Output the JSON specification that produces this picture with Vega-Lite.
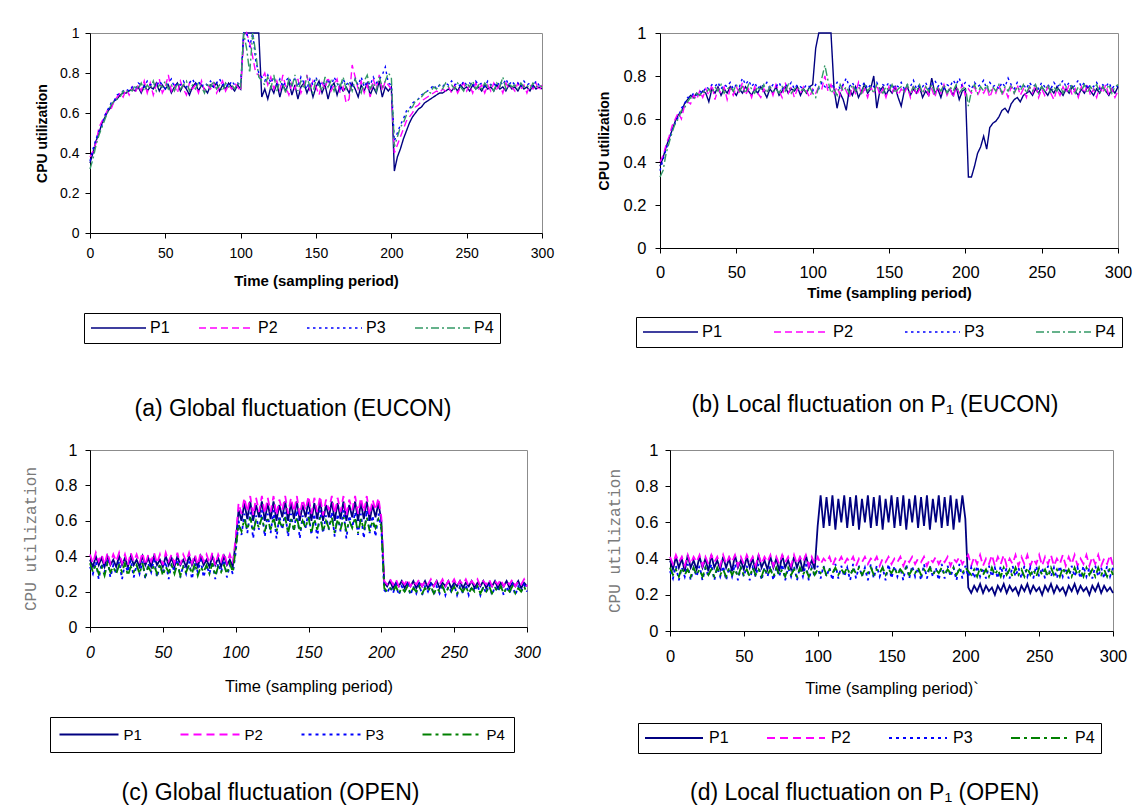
{
"$schema": "https://vega.github.io/schema/vega-lite/v6.json",
"padding": {"left": 22, "top": 24, "right": 5, "bottom": 2},
"background": "white",
"config": {
  "font": "Liberation Sans",
  "view": {"stroke": "#8c8c8c", "strokeWidth": 1},
  "axis": {"grid": false, "domainColor": "black", "tickColor": "black", "labelColor": "black", "titleColor": "black", "tickSize": 5, "labelFont": "Liberation Sans", "labelFlush": false, "labelOverlap": false},
  "legend": {"orient": "none", "direction": "horizontal", "columns": 4, "symbolType": "stroke", "clipHeight": 18, "strokeColor": "black", "fillColor": "white", "labelColor": "black", "labelFont": "Liberation Sans", "gridAlign": "each"},
  "title": {"font": "Liberation Sans", "fontSize": 23, "fontWeight": "normal", "color": "black", "orient": "bottom", "frame": "group", "anchor": "middle"}
},
"resolve": {"scale": {"color": "independent", "strokeDash": "independent"}, "legend": {"color": "independent", "strokeDash": "independent"}},
"datasets": {
"a": [
{"t":0,"P1":0.35,"P2":0.38,"P3":0.36,"P4":0.32},
{"t":2,"P1":0.40,"P2":0.41,"P3":0.42,"P4":0.37},
{"t":4,"P1":0.46,"P2":0.45,"P3":0.47,"P4":0.44},
{"t":6,"P1":0.50,"P2":0.53,"P3":0.51,"P4":0.49},
{"t":8,"P1":0.55,"P2":0.56,"P3":0.54,"P4":0.53},
{"t":10,"P1":0.58,"P2":0.59,"P3":0.59,"P4":0.57},
{"t":12,"P1":0.61,"P2":0.62,"P3":0.62,"P4":0.61},
{"t":14,"P1":0.63,"P2":0.62,"P3":0.65,"P4":0.64},
{"t":16,"P1":0.66,"P2":0.66,"P3":0.66,"P4":0.66},
{"t":18,"P1":0.67,"P2":0.68,"P3":0.69,"P4":0.67},
{"t":20,"P1":0.69,"P2":0.70,"P3":0.70,"P4":0.68},
{"t":22,"P1":0.70,"P2":0.68,"P3":0.71,"P4":0.71},
{"t":24,"P1":0.70,"P2":0.72,"P3":0.72,"P4":0.70},
{"t":26,"P1":0.71,"P2":0.69,"P3":0.71,"P4":0.72},
{"t":28,"P1":0.72,"P2":0.73,"P3":0.73,"P4":0.71},
{"t":30,"P1":0.71,"P2":0.70,"P3":0.72,"P4":0.74},
{"t":32,"P1":0.73,"P2":0.74,"P3":0.75,"P4":0.72},
{"t":34,"P1":0.70,"P2":0.71,"P3":0.74,"P4":0.75},
{"t":36,"P1":0.74,"P2":0.76,"P3":0.73,"P4":0.71},
{"t":38,"P1":0.71,"P2":0.70,"P3":0.76,"P4":0.74},
{"t":40,"P1":0.73,"P2":0.75,"P3":0.74,"P4":0.72},
{"t":42,"P1":0.72,"P2":0.69,"P3":0.75,"P4":0.76},
{"t":44,"P1":0.75,"P2":0.74,"P3":0.73,"P4":0.71},
{"t":46,"P1":0.71,"P2":0.77,"P3":0.76,"P4":0.74},
{"t":48,"P1":0.74,"P2":0.70,"P3":0.74,"P4":0.73},
{"t":50,"P1":0.72,"P2":0.73,"P3":0.72,"P4":0.76},
{"t":52,"P1":0.74,"P2":0.79,"P3":0.75,"P4":0.72},
{"t":54,"P1":0.70,"P2":0.71,"P3":0.77,"P4":0.74},
{"t":56,"P1":0.73,"P2":0.74,"P3":0.73,"P4":0.71},
{"t":58,"P1":0.75,"P2":0.70,"P3":0.75,"P4":0.75},
{"t":60,"P1":0.71,"P2":0.76,"P3":0.74,"P4":0.72},
{"t":62,"P1":0.74,"P2":0.72,"P3":0.76,"P4":0.74},
{"t":64,"P1":0.72,"P2":0.69,"P3":0.73,"P4":0.76},
{"t":66,"P1":0.69,"P2":0.75,"P3":0.75,"P4":0.71},
{"t":68,"P1":0.73,"P2":0.72,"P3":0.77,"P4":0.74},
{"t":70,"P1":0.75,"P2":0.74,"P3":0.74,"P4":0.72},
{"t":72,"P1":0.71,"P2":0.70,"P3":0.76,"P4":0.75},
{"t":74,"P1":0.74,"P2":0.76,"P3":0.73,"P4":0.73},
{"t":76,"P1":0.72,"P2":0.71,"P3":0.75,"P4":0.70},
{"t":78,"P1":0.70,"P2":0.74,"P3":0.74,"P4":0.75},
{"t":80,"P1":0.74,"P2":0.72,"P3":0.76,"P4":0.73},
{"t":82,"P1":0.73,"P2":0.75,"P3":0.73,"P4":0.76},
{"t":84,"P1":0.75,"P2":0.70,"P3":0.75,"P4":0.72},
{"t":86,"P1":0.71,"P2":0.73,"P3":0.77,"P4":0.74},
{"t":88,"P1":0.74,"P2":0.76,"P3":0.74,"P4":0.71},
{"t":90,"P1":0.72,"P2":0.71,"P3":0.75,"P4":0.75},
{"t":92,"P1":0.75,"P2":0.74,"P3":0.73,"P4":0.73},
{"t":94,"P1":0.73,"P2":0.72,"P3":0.76,"P4":0.74},
{"t":96,"P1":0.71,"P2":0.75,"P3":0.74,"P4":0.72},
{"t":98,"P1":0.74,"P2":0.73,"P3":0.75,"P4":0.75},
{"t":100,"P1":0.72,"P2":0.71,"P3":0.74,"P4":0.73},
{"t":102,"P1":1,"P2":0.97,"P3":1,"P4":1},
{"t":104,"P1":1,"P2":1,"P3":1,"P4":0.92},
{"t":106,"P1":1,"P2":0.95,"P3":0.93,"P4":0.80},
{"t":108,"P1":1,"P2":0.88,"P3":1,"P4":1},
{"t":110,"P1":1,"P2":0.80,"P3":0.86,"P4":0.90},
{"t":112,"P1":1,"P2":0.79,"P3":0.80,"P4":0.78},
{"t":114,"P1":0.68,"P2":0.77,"P3":0.78,"P4":0.76},
{"t":116,"P1":0.72,"P2":0.80,"P3":0.76,"P4":0.74},
{"t":118,"P1":0.67,"P2":0.74,"P3":0.79,"P4":0.78},
{"t":120,"P1":0.73,"P2":0.78,"P3":0.75,"P4":0.72},
{"t":122,"P1":0.70,"P2":0.72,"P3":0.78,"P4":0.79},
{"t":124,"P1":0.75,"P2":0.76,"P3":0.74,"P4":0.71},
{"t":126,"P1":0.68,"P2":0.71,"P3":0.77,"P4":0.76},
{"t":128,"P1":0.74,"P2":0.79,"P3":0.73,"P4":0.74},
{"t":130,"P1":0.71,"P2":0.73,"P3":0.76,"P4":0.70},
{"t":132,"P1":0.76,"P2":0.69,"P3":0.78,"P4":0.77},
{"t":134,"P1":0.69,"P2":0.75,"P3":0.74,"P4":0.73},
{"t":136,"P1":0.74,"P2":0.72,"P3":0.77,"P4":0.79},
{"t":138,"P1":0.67,"P2":0.77,"P3":0.73,"P4":0.71},
{"t":140,"P1":0.73,"P2":0.70,"P3":0.78,"P4":0.76},
{"t":142,"P1":0.75,"P2":0.74,"P3":0.75,"P4":0.72},
{"t":144,"P1":0.70,"P2":0.79,"P3":0.72,"P4":0.78},
{"t":146,"P1":0.74,"P2":0.71,"P3":0.77,"P4":0.73},
{"t":148,"P1":0.68,"P2":0.76,"P3":0.74,"P4":0.70},
{"t":150,"P1":0.73,"P2":0.73,"P3":0.78,"P4":0.77},
{"t":152,"P1":0.76,"P2":0.69,"P3":0.73,"P4":0.74},
{"t":154,"P1":0.70,"P2":0.75,"P3":0.76,"P4":0.71},
{"t":156,"P1":0.74,"P2":0.72,"P3":0.74,"P4":0.78},
{"t":158,"P1":0.67,"P2":0.78,"P3":0.77,"P4":0.73},
{"t":160,"P1":0.73,"P2":0.71,"P3":0.73,"P4":0.76},
{"t":162,"P1":0.75,"P2":0.74,"P3":0.78,"P4":0.71},
{"t":164,"P1":0.69,"P2":0.77,"P3":0.75,"P4":0.75},
{"t":166,"P1":0.74,"P2":0.70,"P3":0.72,"P4":0.73},
{"t":168,"P1":0.71,"P2":0.73,"P3":0.77,"P4":0.78},
{"t":170,"P1":0.73,"P2":0.65,"P3":0.74,"P4":0.72},
{"t":172,"P1":0.70,"P2":0.67,"P3":0.76,"P4":0.75},
{"t":174,"P1":0.75,"P2":0.84,"P3":0.73,"P4":0.71},
{"t":176,"P1":0.72,"P2":0.78,"P3":0.77,"P4":0.77},
{"t":178,"P1":0.68,"P2":0.72,"P3":0.74,"P4":0.73},
{"t":180,"P1":0.74,"P2":0.76,"P3":0.78,"P4":0.70},
{"t":182,"P1":0.71,"P2":0.70,"P3":0.73,"P4":0.76},
{"t":184,"P1":0.75,"P2":0.74,"P3":0.76,"P4":0.79},
{"t":186,"P1":0.69,"P2":0.68,"P3":0.74,"P4":0.72},
{"t":188,"P1":0.73,"P2":0.77,"P3":0.78,"P4":0.75},
{"t":190,"P1":0.70,"P2":0.72,"P3":0.75,"P4":0.71},
{"t":192,"P1":0.76,"P2":0.79,"P3":0.77,"P4":0.78},
{"t":194,"P1":0.68,"P2":0.71,"P3":0.79,"P4":0.73},
{"t":196,"P1":0.73,"P2":0.76,"P3":0.83,"P4":0.76},
{"t":198,"P1":0.71,"P2":0.74,"P3":0.75,"P4":0.80},
{"t":200,"P1":0.73,"P2":0.72,"P3":0.74,"P4":0.78},
{"t":202,"P1":0.31,"P2":0.40,"P3":0.46,"P4":0.43},
{"t":204,"P1":0.38,"P2":0.44,"P3":0.50,"P4":0.48},
{"t":206,"P1":0.42,"P2":0.48,"P3":0.54,"P4":0.53},
{"t":208,"P1":0.47,"P2":0.52,"P3":0.57,"P4":0.55},
{"t":210,"P1":0.51,"P2":0.56,"P3":0.61,"P4":0.59},
{"t":212,"P1":0.55,"P2":0.58,"P3":0.62,"P4":0.62},
{"t":214,"P1":0.58,"P2":0.60,"P3":0.65,"P4":0.63},
{"t":216,"P1":0.60,"P2":0.63,"P3":0.66,"P4":0.66},
{"t":218,"P1":0.62,"P2":0.64,"P3":0.67,"P4":0.67},
{"t":220,"P1":0.63,"P2":0.66,"P3":0.69,"P4":0.68},
{"t":222,"P1":0.65,"P2":0.67,"P3":0.70,"P4":0.70},
{"t":224,"P1":0.66,"P2":0.68,"P3":0.71,"P4":0.71},
{"t":226,"P1":0.67,"P2":0.69,"P3":0.72,"P4":0.70},
{"t":228,"P1":0.68,"P2":0.70,"P3":0.74,"P4":0.73},
{"t":230,"P1":0.69,"P2":0.71,"P3":0.72,"P4":0.72},
{"t":232,"P1":0.70,"P2":0.70,"P3":0.74,"P4":0.74},
{"t":234,"P1":0.70,"P2":0.72,"P3":0.73,"P4":0.72},
{"t":236,"P1":0.71,"P2":0.71,"P3":0.75,"P4":0.75},
{"t":238,"P1":0.72,"P2":0.73,"P3":0.74,"P4":0.73},
{"t":240,"P1":0.71,"P2":0.70,"P3":0.76,"P4":0.74},
{"t":242,"P1":0.73,"P2":0.74,"P3":0.74,"P4":0.72},
{"t":244,"P1":0.71,"P2":0.70,"P3":0.75,"P4":0.75},
{"t":246,"P1":0.74,"P2":0.73,"P3":0.73,"P4":0.73},
{"t":248,"P1":0.72,"P2":0.75,"P3":0.76,"P4":0.71},
{"t":250,"P1":0.73,"P2":0.71,"P3":0.74,"P4":0.75},
{"t":252,"P1":0.71,"P2":0.74,"P3":0.75,"P4":0.73},
{"t":254,"P1":0.74,"P2":0.70,"P3":0.73,"P4":0.76},
{"t":256,"P1":0.72,"P2":0.75,"P3":0.76,"P4":0.72},
{"t":258,"P1":0.73,"P2":0.72,"P3":0.74,"P4":0.74},
{"t":260,"P1":0.71,"P2":0.74,"P3":0.75,"P4":0.72},
{"t":262,"P1":0.74,"P2":0.70,"P3":0.73,"P4":0.75},
{"t":264,"P1":0.72,"P2":0.74,"P3":0.76,"P4":0.73},
{"t":266,"P1":0.73,"P2":0.71,"P3":0.74,"P4":0.74},
{"t":268,"P1":0.71,"P2":0.75,"P3":0.75,"P4":0.71},
{"t":270,"P1":0.74,"P2":0.72,"P3":0.73,"P4":0.75},
{"t":272,"P1":0.72,"P2":0.74,"P3":0.76,"P4":0.73},
{"t":274,"P1":0.73,"P2":0.70,"P3":0.74,"P4":0.78},
{"t":276,"P1":0.71,"P2":0.75,"P3":0.77,"P4":0.72},
{"t":278,"P1":0.74,"P2":0.72,"P3":0.74,"P4":0.75},
{"t":280,"P1":0.72,"P2":0.73,"P3":0.76,"P4":0.73},
{"t":282,"P1":0.73,"P2":0.71,"P3":0.74,"P4":0.74},
{"t":284,"P1":0.71,"P2":0.75,"P3":0.75,"P4":0.72},
{"t":286,"P1":0.74,"P2":0.72,"P3":0.73,"P4":0.75},
{"t":288,"P1":0.72,"P2":0.74,"P3":0.76,"P4":0.73},
{"t":290,"P1":0.73,"P2":0.70,"P3":0.74,"P4":0.74},
{"t":292,"P1":0.71,"P2":0.74,"P3":0.75,"P4":0.72},
{"t":294,"P1":0.74,"P2":0.72,"P3":0.73,"P4":0.75},
{"t":296,"P1":0.72,"P2":0.75,"P3":0.76,"P4":0.73},
{"t":298,"P1":0.73,"P2":0.71,"P3":0.74,"P4":0.74},
{"t":300,"P1":0.72,"P2":0.74,"P3":0.75,"P4":0.73}
],
"b": [
{"t":0,"P1":0.38,"P2":0.40,"P3":0.36,"P4":0.33},
{"t":2,"P1":0.42,"P2":0.43,"P3":0.41,"P4":0.36},
{"t":4,"P1":0.47,"P2":0.48,"P3":0.46,"P4":0.44},
{"t":6,"P1":0.51,"P2":0.52,"P3":0.50,"P4":0.49},
{"t":8,"P1":0.55,"P2":0.57,"P3":0.55,"P4":0.54},
{"t":10,"P1":0.59,"P2":0.60,"P3":0.58,"P4":0.58},
{"t":12,"P1":0.62,"P2":0.63,"P3":0.61,"P4":0.60},
{"t":14,"P1":0.63,"P2":0.60,"P3":0.65,"P4":0.64},
{"t":16,"P1":0.67,"P2":0.66,"P3":0.67,"P4":0.65},
{"t":18,"P1":0.69,"P2":0.68,"P3":0.70,"P4":0.68},
{"t":20,"P1":0.71,"P2":0.67,"P3":0.70,"P4":0.70},
{"t":22,"P1":0.70,"P2":0.71,"P3":0.72,"P4":0.69},
{"t":24,"P1":0.72,"P2":0.69,"P3":0.71,"P4":0.72},
{"t":26,"P1":0.71,"P2":0.73,"P3":0.73,"P4":0.71},
{"t":28,"P1":0.73,"P2":0.70,"P3":0.72,"P4":0.73},
{"t":30,"P1":0.72,"P2":0.74,"P3":0.75,"P4":0.72},
{"t":32,"P1":0.68,"P2":0.71,"P3":0.74,"P4":0.74},
{"t":34,"P1":0.74,"P2":0.76,"P3":0.76,"P4":0.72},
{"t":36,"P1":0.72,"P2":0.69,"P3":0.75,"P4":0.75},
{"t":38,"P1":0.75,"P2":0.74,"P3":0.77,"P4":0.73},
{"t":40,"P1":0.71,"P2":0.72,"P3":0.74,"P4":0.76},
{"t":42,"P1":0.74,"P2":0.75,"P3":0.76,"P4":0.72},
{"t":44,"P1":0.72,"P2":0.69,"P3":0.75,"P4":0.74},
{"t":46,"P1":0.75,"P2":0.74,"P3":0.77,"P4":0.75},
{"t":48,"P1":0.73,"P2":0.71,"P3":0.74,"P4":0.73},
{"t":50,"P1":0.71,"P2":0.75,"P3":0.76,"P4":0.76},
{"t":52,"P1":0.74,"P2":0.72,"P3":0.75,"P4":0.73},
{"t":54,"P1":0.72,"P2":0.77,"P3":0.79,"P4":0.75},
{"t":56,"P1":0.75,"P2":0.71,"P3":0.76,"P4":0.72},
{"t":58,"P1":0.73,"P2":0.74,"P3":0.78,"P4":0.76},
{"t":60,"P1":0.71,"P2":0.70,"P3":0.75,"P4":0.74},
{"t":62,"P1":0.74,"P2":0.75,"P3":0.77,"P4":0.72},
{"t":64,"P1":0.72,"P2":0.72,"P3":0.74,"P4":0.75},
{"t":66,"P1":0.75,"P2":0.70,"P3":0.76,"P4":0.73},
{"t":68,"P1":0.73,"P2":0.74,"P3":0.75,"P4":0.76},
{"t":70,"P1":0.70,"P2":0.72,"P3":0.77,"P4":0.72},
{"t":72,"P1":0.74,"P2":0.75,"P3":0.74,"P4":0.75},
{"t":74,"P1":0.72,"P2":0.71,"P3":0.76,"P4":0.73},
{"t":76,"P1":0.75,"P2":0.76,"P3":0.75,"P4":0.74},
{"t":78,"P1":0.71,"P2":0.73,"P3":0.77,"P4":0.72},
{"t":80,"P1":0.73,"P2":0.70,"P3":0.74,"P4":0.75},
{"t":82,"P1":0.75,"P2":0.77,"P3":0.76,"P4":0.73},
{"t":84,"P1":0.72,"P2":0.72,"P3":0.75,"P4":0.76},
{"t":86,"P1":0.74,"P2":0.75,"P3":0.77,"P4":0.72},
{"t":88,"P1":0.73,"P2":0.70,"P3":0.74,"P4":0.74},
{"t":90,"P1":0.75,"P2":0.74,"P3":0.76,"P4":0.75},
{"t":92,"P1":0.71,"P2":0.72,"P3":0.75,"P4":0.73},
{"t":94,"P1":0.74,"P2":0.75,"P3":0.74,"P4":0.74},
{"t":96,"P1":0.72,"P2":0.73,"P3":0.76,"P4":0.72},
{"t":98,"P1":0.75,"P2":0.70,"P3":0.75,"P4":0.75},
{"t":100,"P1":0.76,"P2":0.74,"P3":0.73,"P4":0.72},
{"t":102,"P1":0.93,"P2":0.72,"P3":0.76,"P4":0.70},
{"t":104,"P1":1,"P2":0.75,"P3":0.74,"P4":0.75},
{"t":106,"P1":1,"P2":0.74,"P3":0.77,"P4":0.79},
{"t":108,"P1":1,"P2":0.80,"P3":0.75,"P4":0.85},
{"t":110,"P1":1,"P2":0.73,"P3":0.74,"P4":0.78},
{"t":112,"P1":1,"P2":0.76,"P3":0.76,"P4":0.72},
{"t":114,"P1":0.74,"P2":0.72,"P3":0.75,"P4":0.74},
{"t":116,"P1":0.65,"P2":0.75,"P3":0.77,"P4":0.71},
{"t":118,"P1":0.72,"P2":0.71,"P3":0.74,"P4":0.76},
{"t":120,"P1":0.69,"P2":0.76,"P3":0.76,"P4":0.73},
{"t":122,"P1":0.64,"P2":0.73,"P3":0.79,"P4":0.75},
{"t":124,"P1":0.74,"P2":0.70,"P3":0.75,"P4":0.72},
{"t":126,"P1":0.71,"P2":0.75,"P3":0.77,"P4":0.76},
{"t":128,"P1":0.75,"P2":0.72,"P3":0.74,"P4":0.73},
{"t":130,"P1":0.70,"P2":0.77,"P3":0.76,"P4":0.75},
{"t":132,"P1":0.73,"P2":0.71,"P3":0.75,"P4":0.72},
{"t":134,"P1":0.76,"P2":0.74,"P3":0.77,"P4":0.76},
{"t":136,"P1":0.72,"P2":0.70,"P3":0.74,"P4":0.73},
{"t":138,"P1":0.74,"P2":0.75,"P3":0.76,"P4":0.75},
{"t":140,"P1":0.80,"P2":0.72,"P3":0.75,"P4":0.72},
{"t":142,"P1":0.65,"P2":0.76,"P3":0.77,"P4":0.76},
{"t":144,"P1":0.73,"P2":0.71,"P3":0.74,"P4":0.74},
{"t":146,"P1":0.75,"P2":0.74,"P3":0.76,"P4":0.72},
{"t":148,"P1":0.71,"P2":0.70,"P3":0.75,"P4":0.75},
{"t":150,"P1":0.74,"P2":0.75,"P3":0.77,"P4":0.73},
{"t":152,"P1":0.72,"P2":0.72,"P3":0.74,"P4":0.76},
{"t":154,"P1":0.75,"P2":0.76,"P3":0.76,"P4":0.72},
{"t":156,"P1":0.70,"P2":0.71,"P3":0.75,"P4":0.74},
{"t":158,"P1":0.66,"P2":0.74,"P3":0.77,"P4":0.75},
{"t":160,"P1":0.73,"P2":0.72,"P3":0.74,"P4":0.73},
{"t":162,"P1":0.75,"P2":0.75,"P3":0.76,"P4":0.76},
{"t":164,"P1":0.71,"P2":0.70,"P3":0.75,"P4":0.72},
{"t":166,"P1":0.74,"P2":0.76,"P3":0.78,"P4":0.75},
{"t":168,"P1":0.72,"P2":0.71,"P3":0.74,"P4":0.73},
{"t":170,"P1":0.75,"P2":0.74,"P3":0.76,"P4":0.76},
{"t":172,"P1":0.70,"P2":0.72,"P3":0.75,"P4":0.72},
{"t":174,"P1":0.73,"P2":0.75,"P3":0.77,"P4":0.75},
{"t":176,"P1":0.71,"P2":0.71,"P3":0.74,"P4":0.73},
{"t":178,"P1":0.79,"P2":0.74,"P3":0.76,"P4":0.76},
{"t":180,"P1":0.72,"P2":0.70,"P3":0.78,"P4":0.72},
{"t":182,"P1":0.74,"P2":0.75,"P3":0.75,"P4":0.75},
{"t":184,"P1":0.70,"P2":0.72,"P3":0.77,"P4":0.73},
{"t":186,"P1":0.75,"P2":0.76,"P3":0.74,"P4":0.76},
{"t":188,"P1":0.72,"P2":0.71,"P3":0.76,"P4":0.72},
{"t":190,"P1":0.74,"P2":0.74,"P3":0.75,"P4":0.75},
{"t":192,"P1":0.71,"P2":0.70,"P3":0.78,"P4":0.73},
{"t":194,"P1":0.75,"P2":0.75,"P3":0.76,"P4":0.76},
{"t":196,"P1":0.69,"P2":0.72,"P3":0.79,"P4":0.72},
{"t":198,"P1":0.73,"P2":0.76,"P3":0.75,"P4":0.74},
{"t":200,"P1":0.74,"P2":0.71,"P3":0.77,"P4":0.75},
{"t":202,"P1":0.33,"P2":0.74,"P3":0.76,"P4":0.66},
{"t":204,"P1":0.33,"P2":0.72,"P3":0.74,"P4":0.73},
{"t":206,"P1":0.38,"P2":0.75,"P3":0.77,"P4":0.76},
{"t":208,"P1":0.44,"P2":0.71,"P3":0.75,"P4":0.72},
{"t":210,"P1":0.47,"P2":0.74,"P3":0.76,"P4":0.75},
{"t":212,"P1":0.52,"P2":0.72,"P3":0.78,"P4":0.73},
{"t":214,"P1":0.46,"P2":0.75,"P3":0.74,"P4":0.76},
{"t":216,"P1":0.56,"P2":0.70,"P3":0.77,"P4":0.72},
{"t":218,"P1":0.58,"P2":0.74,"P3":0.75,"P4":0.75},
{"t":220,"P1":0.59,"P2":0.72,"P3":0.76,"P4":0.73},
{"t":222,"P1":0.61,"P2":0.76,"P3":0.74,"P4":0.76},
{"t":224,"P1":0.64,"P2":0.71,"P3":0.77,"P4":0.72},
{"t":226,"P1":0.65,"P2":0.74,"P3":0.75,"P4":0.75},
{"t":228,"P1":0.63,"P2":0.70,"P3":0.79,"P4":0.73},
{"t":230,"P1":0.67,"P2":0.75,"P3":0.76,"P4":0.76},
{"t":232,"P1":0.69,"P2":0.72,"P3":0.74,"P4":0.72},
{"t":234,"P1":0.70,"P2":0.76,"P3":0.77,"P4":0.75},
{"t":236,"P1":0.68,"P2":0.71,"P3":0.75,"P4":0.73},
{"t":238,"P1":0.71,"P2":0.74,"P3":0.76,"P4":0.76},
{"t":240,"P1":0.72,"P2":0.70,"P3":0.74,"P4":0.72},
{"t":242,"P1":0.73,"P2":0.75,"P3":0.77,"P4":0.75},
{"t":244,"P1":0.71,"P2":0.72,"P3":0.75,"P4":0.73},
{"t":246,"P1":0.74,"P2":0.76,"P3":0.76,"P4":0.76},
{"t":248,"P1":0.72,"P2":0.70,"P3":0.74,"P4":0.72},
{"t":250,"P1":0.75,"P2":0.74,"P3":0.77,"P4":0.75},
{"t":252,"P1":0.73,"P2":0.71,"P3":0.75,"P4":0.73},
{"t":254,"P1":0.71,"P2":0.75,"P3":0.76,"P4":0.76},
{"t":256,"P1":0.74,"P2":0.72,"P3":0.74,"P4":0.72},
{"t":258,"P1":0.72,"P2":0.69,"P3":0.77,"P4":0.75},
{"t":260,"P1":0.75,"P2":0.74,"P3":0.75,"P4":0.73},
{"t":262,"P1":0.73,"P2":0.71,"P3":0.76,"P4":0.76},
{"t":264,"P1":0.71,"P2":0.75,"P3":0.78,"P4":0.72},
{"t":266,"P1":0.74,"P2":0.72,"P3":0.75,"P4":0.75},
{"t":268,"P1":0.72,"P2":0.76,"P3":0.77,"P4":0.73},
{"t":270,"P1":0.75,"P2":0.71,"P3":0.74,"P4":0.76},
{"t":272,"P1":0.73,"P2":0.74,"P3":0.76,"P4":0.72},
{"t":274,"P1":0.71,"P2":0.70,"P3":0.78,"P4":0.75},
{"t":276,"P1":0.74,"P2":0.75,"P3":0.75,"P4":0.73},
{"t":278,"P1":0.72,"P2":0.72,"P3":0.77,"P4":0.76},
{"t":280,"P1":0.75,"P2":0.76,"P3":0.74,"P4":0.72},
{"t":282,"P1":0.73,"P2":0.71,"P3":0.76,"P4":0.75},
{"t":284,"P1":0.71,"P2":0.74,"P3":0.75,"P4":0.73},
{"t":286,"P1":0.74,"P2":0.70,"P3":0.77,"P4":0.76},
{"t":288,"P1":0.72,"P2":0.75,"P3":0.74,"P4":0.72},
{"t":290,"P1":0.75,"P2":0.72,"P3":0.76,"P4":0.75},
{"t":292,"P1":0.73,"P2":0.76,"P3":0.75,"P4":0.73},
{"t":294,"P1":0.71,"P2":0.71,"P3":0.77,"P4":0.76},
{"t":296,"P1":0.74,"P2":0.74,"P3":0.74,"P4":0.72},
{"t":298,"P1":0.72,"P2":0.70,"P3":0.76,"P4":0.75},
{"t":300,"P1":0.75,"P2":0.73,"P3":0.75,"P4":0.76}
],
"c": [
{"t":0,"P1":0.38,"P2":0.41,"P3":0.34,"P4":0.36},
{"t":2,"P1":0.34,"P2":0.36,"P3":0.30,"P4":0.31},
{"t":4,"P1":0.40,"P2":0.42,"P3":0.37,"P4":0.35},
{"t":6,"P1":0.35,"P2":0.37,"P3":0.27,"P4":0.30},
{"t":8,"P1":0.39,"P2":0.41,"P3":0.36,"P4":0.34},
{"t":10,"P1":0.34,"P2":0.35,"P3":0.31,"P4":0.29},
{"t":12,"P1":0.40,"P2":0.42,"P3":0.38,"P4":0.36},
{"t":14,"P1":0.35,"P2":0.36,"P3":0.28,"P4":0.31},
{"t":16,"P1":0.38,"P2":0.41,"P3":0.35,"P4":0.34},
{"t":18,"P1":0.34,"P2":0.37,"P3":0.30,"P4":0.30},
{"t":20,"P1":0.40,"P2":0.42,"P3":0.37,"P4":0.35},
{"t":22,"P1":0.35,"P2":0.36,"P3":0.27,"P4":0.31},
{"t":24,"P1":0.39,"P2":0.41,"P3":0.36,"P4":0.36},
{"t":26,"P1":0.34,"P2":0.35,"P3":0.31,"P4":0.29},
{"t":28,"P1":0.40,"P2":0.42,"P3":0.38,"P4":0.34},
{"t":30,"P1":0.35,"P2":0.37,"P3":0.28,"P4":0.31},
{"t":32,"P1":0.38,"P2":0.41,"P3":0.35,"P4":0.35},
{"t":34,"P1":0.34,"P2":0.36,"P3":0.30,"P4":0.30},
{"t":36,"P1":0.40,"P2":0.42,"P3":0.37,"P4":0.36},
{"t":38,"P1":0.35,"P2":0.35,"P3":0.27,"P4":0.29},
{"t":40,"P1":0.39,"P2":0.41,"P3":0.36,"P4":0.34},
{"t":42,"P1":0.34,"P2":0.37,"P3":0.31,"P4":0.31},
{"t":44,"P1":0.40,"P2":0.42,"P3":0.38,"P4":0.35},
{"t":46,"P1":0.35,"P2":0.36,"P3":0.28,"P4":0.30},
{"t":48,"P1":0.38,"P2":0.41,"P3":0.35,"P4":0.36},
{"t":50,"P1":0.34,"P2":0.35,"P3":0.30,"P4":0.29},
{"t":52,"P1":0.40,"P2":0.42,"P3":0.37,"P4":0.34},
{"t":54,"P1":0.35,"P2":0.37,"P3":0.27,"P4":0.31},
{"t":56,"P1":0.39,"P2":0.41,"P3":0.36,"P4":0.35},
{"t":58,"P1":0.34,"P2":0.36,"P3":0.31,"P4":0.30},
{"t":60,"P1":0.40,"P2":0.42,"P3":0.38,"P4":0.36},
{"t":62,"P1":0.35,"P2":0.35,"P3":0.28,"P4":0.29},
{"t":64,"P1":0.38,"P2":0.41,"P3":0.35,"P4":0.34},
{"t":66,"P1":0.34,"P2":0.37,"P3":0.30,"P4":0.31},
{"t":68,"P1":0.40,"P2":0.42,"P3":0.37,"P4":0.35},
{"t":70,"P1":0.35,"P2":0.36,"P3":0.27,"P4":0.30},
{"t":72,"P1":0.39,"P2":0.41,"P3":0.36,"P4":0.36},
{"t":74,"P1":0.34,"P2":0.35,"P3":0.31,"P4":0.29},
{"t":76,"P1":0.40,"P2":0.42,"P3":0.38,"P4":0.34},
{"t":78,"P1":0.35,"P2":0.37,"P3":0.28,"P4":0.31},
{"t":80,"P1":0.38,"P2":0.41,"P3":0.35,"P4":0.35},
{"t":82,"P1":0.34,"P2":0.36,"P3":0.30,"P4":0.30},
{"t":84,"P1":0.40,"P2":0.42,"P3":0.37,"P4":0.36},
{"t":86,"P1":0.35,"P2":0.35,"P3":0.27,"P4":0.29},
{"t":88,"P1":0.39,"P2":0.41,"P3":0.36,"P4":0.34},
{"t":90,"P1":0.34,"P2":0.37,"P3":0.31,"P4":0.31},
{"t":92,"P1":0.40,"P2":0.42,"P3":0.38,"P4":0.35},
{"t":94,"P1":0.35,"P2":0.36,"P3":0.28,"P4":0.30},
{"t":96,"P1":0.38,"P2":0.41,"P3":0.35,"P4":0.36},
{"t":98,"P1":0.34,"P2":0.36,"P3":0.30,"P4":0.31},
{"t":100,"P1":0.48,"P2":0.50,"P3":0.42,"P4":0.44},
{"t":102,"P1":0.66,"P2":0.70,"P3":0.60,"P4":0.58},
{"t":104,"P1":0.60,"P2":0.64,"P3":0.52,"P4":0.54},
{"t":106,"P1":0.70,"P2":0.73,"P3":0.64,"P4":0.61},
{"t":108,"P1":0.61,"P2":0.65,"P3":0.53,"P4":0.55},
{"t":110,"P1":0.71,"P2":0.74,"P3":0.65,"P4":0.62},
{"t":112,"P1":0.60,"P2":0.63,"P3":0.50,"P4":0.54},
{"t":114,"P1":0.69,"P2":0.73,"P3":0.63,"P4":0.60},
{"t":116,"P1":0.62,"P2":0.65,"P3":0.55,"P4":0.56},
{"t":118,"P1":0.71,"P2":0.74,"P3":0.66,"P4":0.62},
{"t":120,"P1":0.60,"P2":0.64,"P3":0.51,"P4":0.54},
{"t":122,"P1":0.70,"P2":0.73,"P3":0.64,"P4":0.61},
{"t":124,"P1":0.61,"P2":0.65,"P3":0.53,"P4":0.55},
{"t":126,"P1":0.71,"P2":0.74,"P3":0.66,"P4":0.62},
{"t":128,"P1":0.60,"P2":0.63,"P3":0.50,"P4":0.54},
{"t":130,"P1":0.69,"P2":0.72,"P3":0.63,"P4":0.60},
{"t":132,"P1":0.62,"P2":0.66,"P3":0.55,"P4":0.56},
{"t":134,"P1":0.71,"P2":0.74,"P3":0.65,"P4":0.62},
{"t":136,"P1":0.60,"P2":0.64,"P3":0.51,"P4":0.53},
{"t":138,"P1":0.70,"P2":0.73,"P3":0.64,"P4":0.61},
{"t":140,"P1":0.61,"P2":0.65,"P3":0.54,"P4":0.55},
{"t":142,"P1":0.71,"P2":0.74,"P3":0.66,"P4":0.62},
{"t":144,"P1":0.60,"P2":0.63,"P3":0.50,"P4":0.54},
{"t":146,"P1":0.69,"P2":0.72,"P3":0.63,"P4":0.60},
{"t":148,"P1":0.62,"P2":0.66,"P3":0.56,"P4":0.56},
{"t":150,"P1":0.71,"P2":0.74,"P3":0.65,"P4":0.62},
{"t":152,"P1":0.60,"P2":0.64,"P3":0.52,"P4":0.53},
{"t":154,"P1":0.70,"P2":0.73,"P3":0.64,"P4":0.61},
{"t":156,"P1":0.61,"P2":0.65,"P3":0.50,"P4":0.55},
{"t":158,"P1":0.71,"P2":0.74,"P3":0.66,"P4":0.62},
{"t":160,"P1":0.60,"P2":0.63,"P3":0.53,"P4":0.54},
{"t":162,"P1":0.69,"P2":0.72,"P3":0.63,"P4":0.60},
{"t":164,"P1":0.62,"P2":0.66,"P3":0.55,"P4":0.56},
{"t":166,"P1":0.71,"P2":0.74,"P3":0.65,"P4":0.62},
{"t":168,"P1":0.60,"P2":0.64,"P3":0.51,"P4":0.53},
{"t":170,"P1":0.70,"P2":0.73,"P3":0.64,"P4":0.61},
{"t":172,"P1":0.61,"P2":0.65,"P3":0.54,"P4":0.55},
{"t":174,"P1":0.71,"P2":0.74,"P3":0.66,"P4":0.62},
{"t":176,"P1":0.60,"P2":0.63,"P3":0.50,"P4":0.54},
{"t":178,"P1":0.69,"P2":0.72,"P3":0.63,"P4":0.60},
{"t":180,"P1":0.62,"P2":0.66,"P3":0.56,"P4":0.56},
{"t":182,"P1":0.71,"P2":0.74,"P3":0.65,"P4":0.62},
{"t":184,"P1":0.60,"P2":0.64,"P3":0.52,"P4":0.53},
{"t":186,"P1":0.70,"P2":0.73,"P3":0.64,"P4":0.61},
{"t":188,"P1":0.61,"P2":0.65,"P3":0.50,"P4":0.55},
{"t":190,"P1":0.71,"P2":0.74,"P3":0.66,"P4":0.62},
{"t":192,"P1":0.60,"P2":0.63,"P3":0.53,"P4":0.54},
{"t":194,"P1":0.69,"P2":0.72,"P3":0.63,"P4":0.60},
{"t":196,"P1":0.62,"P2":0.66,"P3":0.51,"P4":0.56},
{"t":198,"P1":0.70,"P2":0.73,"P3":0.64,"P4":0.61},
{"t":200,"P1":0.60,"P2":0.62,"P3":0.55,"P4":0.57},
{"t":202,"P1":0.25,"P2":0.26,"P3":0.21,"P4":0.22},
{"t":204,"P1":0.23,"P2":0.24,"P3":0.19,"P4":0.20},
{"t":206,"P1":0.26,"P2":0.27,"P3":0.23,"P4":0.22},
{"t":208,"P1":0.22,"P2":0.24,"P3":0.19,"P4":0.20},
{"t":210,"P1":0.25,"P2":0.27,"P3":0.24,"P4":0.23},
{"t":212,"P1":0.23,"P2":0.23,"P3":0.18,"P4":0.19},
{"t":214,"P1":0.26,"P2":0.26,"P3":0.23,"P4":0.22},
{"t":216,"P1":0.22,"P2":0.24,"P3":0.20,"P4":0.20},
{"t":218,"P1":0.25,"P2":0.27,"P3":0.24,"P4":0.23},
{"t":220,"P1":0.23,"P2":0.23,"P3":0.18,"P4":0.19},
{"t":222,"P1":0.26,"P2":0.26,"P3":0.23,"P4":0.22},
{"t":224,"P1":0.22,"P2":0.24,"P3":0.19,"P4":0.20},
{"t":226,"P1":0.25,"P2":0.27,"P3":0.24,"P4":0.23},
{"t":228,"P1":0.23,"P2":0.23,"P3":0.18,"P4":0.19},
{"t":230,"P1":0.26,"P2":0.26,"P3":0.23,"P4":0.22},
{"t":232,"P1":0.22,"P2":0.24,"P3":0.20,"P4":0.20},
{"t":234,"P1":0.25,"P2":0.27,"P3":0.24,"P4":0.23},
{"t":236,"P1":0.23,"P2":0.23,"P3":0.18,"P4":0.19},
{"t":238,"P1":0.26,"P2":0.26,"P3":0.23,"P4":0.22},
{"t":240,"P1":0.22,"P2":0.24,"P3":0.19,"P4":0.20},
{"t":242,"P1":0.25,"P2":0.27,"P3":0.24,"P4":0.23},
{"t":244,"P1":0.23,"P2":0.23,"P3":0.18,"P4":0.19},
{"t":246,"P1":0.26,"P2":0.26,"P3":0.23,"P4":0.22},
{"t":248,"P1":0.22,"P2":0.24,"P3":0.20,"P4":0.20},
{"t":250,"P1":0.25,"P2":0.27,"P3":0.24,"P4":0.23},
{"t":252,"P1":0.23,"P2":0.23,"P3":0.18,"P4":0.19},
{"t":254,"P1":0.26,"P2":0.26,"P3":0.23,"P4":0.22},
{"t":256,"P1":0.22,"P2":0.24,"P3":0.19,"P4":0.20},
{"t":258,"P1":0.25,"P2":0.27,"P3":0.24,"P4":0.23},
{"t":260,"P1":0.23,"P2":0.23,"P3":0.18,"P4":0.19},
{"t":262,"P1":0.26,"P2":0.26,"P3":0.23,"P4":0.22},
{"t":264,"P1":0.22,"P2":0.24,"P3":0.20,"P4":0.20},
{"t":266,"P1":0.25,"P2":0.27,"P3":0.24,"P4":0.23},
{"t":268,"P1":0.23,"P2":0.23,"P3":0.18,"P4":0.19},
{"t":270,"P1":0.26,"P2":0.26,"P3":0.23,"P4":0.22},
{"t":272,"P1":0.22,"P2":0.24,"P3":0.19,"P4":0.20},
{"t":274,"P1":0.25,"P2":0.27,"P3":0.24,"P4":0.23},
{"t":276,"P1":0.23,"P2":0.23,"P3":0.18,"P4":0.19},
{"t":278,"P1":0.26,"P2":0.26,"P3":0.23,"P4":0.22},
{"t":280,"P1":0.22,"P2":0.24,"P3":0.20,"P4":0.20},
{"t":282,"P1":0.25,"P2":0.27,"P3":0.24,"P4":0.23},
{"t":284,"P1":0.23,"P2":0.23,"P3":0.18,"P4":0.19},
{"t":286,"P1":0.26,"P2":0.26,"P3":0.23,"P4":0.22},
{"t":288,"P1":0.22,"P2":0.24,"P3":0.19,"P4":0.20},
{"t":290,"P1":0.25,"P2":0.27,"P3":0.24,"P4":0.23},
{"t":292,"P1":0.23,"P2":0.23,"P3":0.18,"P4":0.19},
{"t":294,"P1":0.26,"P2":0.26,"P3":0.23,"P4":0.22},
{"t":296,"P1":0.22,"P2":0.24,"P3":0.20,"P4":0.20},
{"t":298,"P1":0.25,"P2":0.27,"P3":0.24,"P4":0.23},
{"t":300,"P1":0.23,"P2":0.23,"P3":0.20,"P4":0.19}
],
"d": [
{"t":0,"P1":0.39,"P2":0.41,"P3":0.33,"P4":0.35},
{"t":2,"P1":0.34,"P2":0.37,"P3":0.29,"P4":0.31},
{"t":4,"P1":0.41,"P2":0.42,"P3":0.36,"P4":0.34},
{"t":6,"P1":0.35,"P2":0.38,"P3":0.28,"P4":0.30},
{"t":8,"P1":0.40,"P2":0.41,"P3":0.35,"P4":0.35},
{"t":10,"P1":0.33,"P2":0.36,"P3":0.30,"P4":0.31},
{"t":12,"P1":0.42,"P2":0.42,"P3":0.37,"P4":0.34},
{"t":14,"P1":0.35,"P2":0.37,"P3":0.28,"P4":0.30},
{"t":16,"P1":0.39,"P2":0.41,"P3":0.35,"P4":0.35},
{"t":18,"P1":0.34,"P2":0.38,"P3":0.30,"P4":0.31},
{"t":20,"P1":0.41,"P2":0.42,"P3":0.36,"P4":0.34},
{"t":22,"P1":0.35,"P2":0.36,"P3":0.28,"P4":0.30},
{"t":24,"P1":0.40,"P2":0.41,"P3":0.35,"P4":0.35},
{"t":26,"P1":0.33,"P2":0.37,"P3":0.30,"P4":0.31},
{"t":28,"P1":0.42,"P2":0.42,"P3":0.37,"P4":0.34},
{"t":30,"P1":0.35,"P2":0.38,"P3":0.28,"P4":0.30},
{"t":32,"P1":0.39,"P2":0.41,"P3":0.35,"P4":0.35},
{"t":34,"P1":0.34,"P2":0.36,"P3":0.30,"P4":0.31},
{"t":36,"P1":0.41,"P2":0.42,"P3":0.36,"P4":0.34},
{"t":38,"P1":0.35,"P2":0.37,"P3":0.28,"P4":0.30},
{"t":40,"P1":0.40,"P2":0.41,"P3":0.35,"P4":0.35},
{"t":42,"P1":0.33,"P2":0.38,"P3":0.30,"P4":0.31},
{"t":44,"P1":0.42,"P2":0.42,"P3":0.37,"P4":0.34},
{"t":46,"P1":0.35,"P2":0.36,"P3":0.28,"P4":0.30},
{"t":48,"P1":0.39,"P2":0.41,"P3":0.35,"P4":0.35},
{"t":50,"P1":0.34,"P2":0.37,"P3":0.30,"P4":0.31},
{"t":52,"P1":0.41,"P2":0.42,"P3":0.36,"P4":0.34},
{"t":54,"P1":0.35,"P2":0.38,"P3":0.28,"P4":0.30},
{"t":56,"P1":0.40,"P2":0.41,"P3":0.35,"P4":0.35},
{"t":58,"P1":0.33,"P2":0.36,"P3":0.30,"P4":0.31},
{"t":60,"P1":0.42,"P2":0.42,"P3":0.37,"P4":0.34},
{"t":62,"P1":0.35,"P2":0.37,"P3":0.28,"P4":0.30},
{"t":64,"P1":0.39,"P2":0.41,"P3":0.35,"P4":0.35},
{"t":66,"P1":0.34,"P2":0.38,"P3":0.30,"P4":0.31},
{"t":68,"P1":0.41,"P2":0.42,"P3":0.36,"P4":0.34},
{"t":70,"P1":0.35,"P2":0.36,"P3":0.28,"P4":0.30},
{"t":72,"P1":0.40,"P2":0.41,"P3":0.35,"P4":0.35},
{"t":74,"P1":0.33,"P2":0.37,"P3":0.30,"P4":0.31},
{"t":76,"P1":0.42,"P2":0.42,"P3":0.37,"P4":0.34},
{"t":78,"P1":0.35,"P2":0.38,"P3":0.28,"P4":0.30},
{"t":80,"P1":0.39,"P2":0.41,"P3":0.35,"P4":0.35},
{"t":82,"P1":0.34,"P2":0.36,"P3":0.30,"P4":0.31},
{"t":84,"P1":0.41,"P2":0.42,"P3":0.36,"P4":0.34},
{"t":86,"P1":0.35,"P2":0.37,"P3":0.28,"P4":0.30},
{"t":88,"P1":0.40,"P2":0.41,"P3":0.35,"P4":0.35},
{"t":90,"P1":0.33,"P2":0.38,"P3":0.30,"P4":0.31},
{"t":92,"P1":0.42,"P2":0.42,"P3":0.37,"P4":0.34},
{"t":94,"P1":0.35,"P2":0.36,"P3":0.28,"P4":0.30},
{"t":96,"P1":0.39,"P2":0.41,"P3":0.35,"P4":0.35},
{"t":98,"P1":0.34,"P2":0.37,"P3":0.30,"P4":0.31},
{"t":100,"P1":0.58,"P2":0.41,"P3":0.36,"P4":0.34},
{"t":102,"P1":0.75,"P2":0.37,"P3":0.29,"P4":0.32},
{"t":104,"P1":0.57,"P2":0.40,"P3":0.36,"P4":0.35},
{"t":106,"P1":0.74,"P2":0.38,"P3":0.30,"P4":0.31},
{"t":108,"P1":0.58,"P2":0.41,"P3":0.35,"P4":0.34},
{"t":110,"P1":0.75,"P2":0.36,"P3":0.28,"P4":0.32},
{"t":112,"P1":0.56,"P2":0.40,"P3":0.37,"P4":0.35},
{"t":114,"P1":0.73,"P2":0.38,"P3":0.29,"P4":0.31},
{"t":116,"P1":0.60,"P2":0.41,"P3":0.36,"P4":0.34},
{"t":118,"P1":0.75,"P2":0.37,"P3":0.30,"P4":0.32},
{"t":120,"P1":0.57,"P2":0.40,"P3":0.35,"P4":0.35},
{"t":122,"P1":0.74,"P2":0.38,"P3":0.28,"P4":0.31},
{"t":124,"P1":0.58,"P2":0.41,"P3":0.37,"P4":0.34},
{"t":126,"P1":0.75,"P2":0.36,"P3":0.29,"P4":0.32},
{"t":128,"P1":0.56,"P2":0.40,"P3":0.36,"P4":0.35},
{"t":130,"P1":0.73,"P2":0.38,"P3":0.30,"P4":0.31},
{"t":132,"P1":0.60,"P2":0.41,"P3":0.35,"P4":0.34},
{"t":134,"P1":0.75,"P2":0.37,"P3":0.28,"P4":0.32},
{"t":136,"P1":0.57,"P2":0.40,"P3":0.37,"P4":0.35},
{"t":138,"P1":0.74,"P2":0.38,"P3":0.29,"P4":0.31},
{"t":140,"P1":0.58,"P2":0.41,"P3":0.36,"P4":0.34},
{"t":142,"P1":0.75,"P2":0.36,"P3":0.30,"P4":0.32},
{"t":144,"P1":0.56,"P2":0.40,"P3":0.35,"P4":0.35},
{"t":146,"P1":0.73,"P2":0.38,"P3":0.28,"P4":0.31},
{"t":148,"P1":0.60,"P2":0.41,"P3":0.37,"P4":0.34},
{"t":150,"P1":0.75,"P2":0.37,"P3":0.29,"P4":0.32},
{"t":152,"P1":0.57,"P2":0.40,"P3":0.36,"P4":0.35},
{"t":154,"P1":0.74,"P2":0.38,"P3":0.30,"P4":0.31},
{"t":156,"P1":0.58,"P2":0.41,"P3":0.35,"P4":0.34},
{"t":158,"P1":0.75,"P2":0.36,"P3":0.28,"P4":0.32},
{"t":160,"P1":0.56,"P2":0.40,"P3":0.37,"P4":0.35},
{"t":162,"P1":0.73,"P2":0.38,"P3":0.29,"P4":0.31},
{"t":164,"P1":0.60,"P2":0.41,"P3":0.36,"P4":0.34},
{"t":166,"P1":0.75,"P2":0.37,"P3":0.30,"P4":0.32},
{"t":168,"P1":0.57,"P2":0.40,"P3":0.35,"P4":0.35},
{"t":170,"P1":0.74,"P2":0.38,"P3":0.28,"P4":0.31},
{"t":172,"P1":0.58,"P2":0.41,"P3":0.37,"P4":0.34},
{"t":174,"P1":0.75,"P2":0.36,"P3":0.29,"P4":0.32},
{"t":176,"P1":0.56,"P2":0.40,"P3":0.36,"P4":0.35},
{"t":178,"P1":0.73,"P2":0.38,"P3":0.30,"P4":0.31},
{"t":180,"P1":0.60,"P2":0.41,"P3":0.35,"P4":0.34},
{"t":182,"P1":0.75,"P2":0.37,"P3":0.28,"P4":0.32},
{"t":184,"P1":0.57,"P2":0.40,"P3":0.37,"P4":0.35},
{"t":186,"P1":0.74,"P2":0.38,"P3":0.29,"P4":0.31},
{"t":188,"P1":0.58,"P2":0.41,"P3":0.36,"P4":0.34},
{"t":190,"P1":0.75,"P2":0.36,"P3":0.30,"P4":0.32},
{"t":192,"P1":0.56,"P2":0.40,"P3":0.35,"P4":0.35},
{"t":194,"P1":0.73,"P2":0.38,"P3":0.28,"P4":0.31},
{"t":196,"P1":0.60,"P2":0.41,"P3":0.37,"P4":0.34},
{"t":198,"P1":0.75,"P2":0.37,"P3":0.29,"P4":0.32},
{"t":200,"P1":0.62,"P2":0.40,"P3":0.36,"P4":0.35},
{"t":202,"P1":0.24,"P2":0.42,"P3":0.30,"P4":0.33},
{"t":204,"P1":0.21,"P2":0.36,"P3":0.35,"P4":0.31},
{"t":206,"P1":0.25,"P2":0.41,"P3":0.29,"P4":0.34},
{"t":208,"P1":0.22,"P2":0.37,"P3":0.36,"P4":0.30},
{"t":210,"P1":0.26,"P2":0.42,"P3":0.30,"P4":0.35},
{"t":212,"P1":0.21,"P2":0.36,"P3":0.35,"P4":0.31},
{"t":214,"P1":0.25,"P2":0.40,"P3":0.29,"P4":0.34},
{"t":216,"P1":0.22,"P2":0.37,"P3":0.36,"P4":0.30},
{"t":218,"P1":0.24,"P2":0.42,"P3":0.30,"P4":0.35},
{"t":220,"P1":0.20,"P2":0.36,"P3":0.35,"P4":0.31},
{"t":222,"P1":0.25,"P2":0.41,"P3":0.29,"P4":0.34},
{"t":224,"P1":0.22,"P2":0.37,"P3":0.36,"P4":0.30},
{"t":226,"P1":0.26,"P2":0.42,"P3":0.30,"P4":0.35},
{"t":228,"P1":0.21,"P2":0.36,"P3":0.35,"P4":0.31},
{"t":230,"P1":0.25,"P2":0.40,"P3":0.29,"P4":0.34},
{"t":232,"P1":0.22,"P2":0.37,"P3":0.36,"P4":0.30},
{"t":234,"P1":0.24,"P2":0.42,"P3":0.30,"P4":0.35},
{"t":236,"P1":0.20,"P2":0.36,"P3":0.35,"P4":0.31},
{"t":238,"P1":0.25,"P2":0.41,"P3":0.29,"P4":0.34},
{"t":240,"P1":0.22,"P2":0.37,"P3":0.36,"P4":0.30},
{"t":242,"P1":0.26,"P2":0.42,"P3":0.30,"P4":0.35},
{"t":244,"P1":0.21,"P2":0.36,"P3":0.35,"P4":0.31},
{"t":246,"P1":0.25,"P2":0.40,"P3":0.29,"P4":0.34},
{"t":248,"P1":0.22,"P2":0.37,"P3":0.36,"P4":0.30},
{"t":250,"P1":0.24,"P2":0.42,"P3":0.30,"P4":0.35},
{"t":252,"P1":0.20,"P2":0.36,"P3":0.35,"P4":0.31},
{"t":254,"P1":0.25,"P2":0.41,"P3":0.29,"P4":0.34},
{"t":256,"P1":0.22,"P2":0.37,"P3":0.36,"P4":0.30},
{"t":258,"P1":0.26,"P2":0.42,"P3":0.30,"P4":0.35},
{"t":260,"P1":0.21,"P2":0.36,"P3":0.35,"P4":0.31},
{"t":262,"P1":0.25,"P2":0.40,"P3":0.29,"P4":0.34},
{"t":264,"P1":0.22,"P2":0.37,"P3":0.36,"P4":0.30},
{"t":266,"P1":0.24,"P2":0.42,"P3":0.30,"P4":0.35},
{"t":268,"P1":0.20,"P2":0.36,"P3":0.35,"P4":0.31},
{"t":270,"P1":0.25,"P2":0.41,"P3":0.29,"P4":0.34},
{"t":272,"P1":0.22,"P2":0.37,"P3":0.36,"P4":0.30},
{"t":274,"P1":0.26,"P2":0.42,"P3":0.30,"P4":0.35},
{"t":276,"P1":0.21,"P2":0.36,"P3":0.35,"P4":0.31},
{"t":278,"P1":0.25,"P2":0.40,"P3":0.29,"P4":0.34},
{"t":280,"P1":0.22,"P2":0.37,"P3":0.36,"P4":0.30},
{"t":282,"P1":0.24,"P2":0.42,"P3":0.30,"P4":0.35},
{"t":284,"P1":0.20,"P2":0.36,"P3":0.35,"P4":0.31},
{"t":286,"P1":0.25,"P2":0.41,"P3":0.29,"P4":0.34},
{"t":288,"P1":0.22,"P2":0.37,"P3":0.36,"P4":0.30},
{"t":290,"P1":0.26,"P2":0.42,"P3":0.30,"P4":0.35},
{"t":292,"P1":0.21,"P2":0.36,"P3":0.35,"P4":0.31},
{"t":294,"P1":0.25,"P2":0.40,"P3":0.29,"P4":0.34},
{"t":296,"P1":0.22,"P2":0.37,"P3":0.36,"P4":0.30},
{"t":298,"P1":0.24,"P2":0.42,"P3":0.30,"P4":0.35},
{"t":300,"P1":0.21,"P2":0.36,"P3":0.35,"P4":0.31}
]
},
"columns": 1,
"align": "none",
"spacing": 20,
"concat": [
{
"spacing": 41,
"resolve": {"scale": {"color": "independent", "strokeDash": "independent"}, "legend": {"color": "independent", "strokeDash": "independent"}},
"hconcat": [
{
"width": 452, "height": 200,
"data": {"name": "a"},
"transform": [{"fold": ["P1","P2","P3","P4"], "as": ["series","value"]}],
"mark": {"type": "line", "strokeWidth": 1.4},
"encoding": {
"x": {"field": "t", "type": "quantitative", "scale": {"domain": [0,300], "nice": false}, "axis": {"values": [0,50,100,150,200,250,300], "title": "Time (sampling period)", "labelFontSize": 14, "labelPadding": 8, "titleFontSize": 15, "titleFontWeight": "bold", "titlePadding": 13}},
"y": {"field": "value", "type": "quantitative", "scale": {"domain": [0,1], "nice": false}, "axis": {"values": [0,0.2,0.4,0.6,0.8,1], "format": "~g", "title": "CPU utilization", "labelFontSize": 14, "labelPadding": 6, "titleFontSize": 14, "titleFontWeight": "bold", "titlePadding": 10}},
"color": {"field": "series", "type": "nominal", "scale": {"domain": ["P1","P2","P3","P4"], "range": ["#000080","#FF00FF","#0000FF","#339966"]}, "legend": {"title": null, "legendX": -6, "legendY": 280, "symbolSize": 3025, "symbolStrokeWidth": 1.5, "labelFontSize": 16, "labelOffset": 3, "columnPadding": 28, "padding": 6}},
"strokeDash": {"field": "series", "type": "nominal", "scale": {"domain": ["P1","P2","P3","P4"], "range": [[1,0],[7,4],[2.5,3.5],[8,3,2,3]]}, "legend": {"title": null, "legendX": -6, "legendY": 280, "symbolSize": 3025, "symbolStrokeWidth": 1.5, "labelFontSize": 16, "labelOffset": 3, "columnPadding": 28, "padding": 6}}
},
"title": {"text": "(a) Global fluctuation (EUCON)", "offset": 54, "dx": -23}
},
{
"width": 458, "height": 215,
"data": {"name": "b"},
"transform": [{"fold": ["P1","P2","P3","P4"], "as": ["series","value"]}],
"mark": {"type": "line", "strokeWidth": 1.4},
"encoding": {
"x": {"field": "t", "type": "quantitative", "scale": {"domain": [0,300], "nice": false}, "axis": {"values": [0,50,100,150,200,250,300], "title": "Time (sampling period)", "labelFontSize": 16.5, "labelPadding": 11, "titleFontSize": 15, "titleFontWeight": "bold", "titlePadding": 5}},
"y": {"field": "value", "type": "quantitative", "scale": {"domain": [0,1], "nice": false}, "axis": {"values": [0,0.2,0.4,0.6,0.8,1], "format": "~g", "title": "CPU utilization", "labelFontSize": 16.5, "labelPadding": 9, "titleFontSize": 14, "titleFontWeight": "bold", "titlePadding": 12}},
"color": {"field": "series", "type": "nominal", "scale": {"domain": ["P1","P2","P3","P4"], "range": ["#000080","#FF00FF","#0000FF","#339966"]}, "legend": {"title": null, "legendX": -24, "legendY": 284, "symbolSize": 3025, "symbolStrokeWidth": 1.5, "labelFontSize": 16.5, "labelOffset": 3, "columnPadding": 50, "padding": 6}},
"strokeDash": {"field": "series", "type": "nominal", "scale": {"domain": ["P1","P2","P3","P4"], "range": [[1,0],[7,4],[2.5,3.5],[8,3,2,3]]}, "legend": {"title": null, "legendX": -24, "legendY": 284, "symbolSize": 3025, "symbolStrokeWidth": 1.5, "labelFontSize": 16.5, "labelOffset": 3, "columnPadding": 50, "padding": 6}}
},
"title": {"text": "(b) Local fluctuation on P₁ (EUCON)", "offset": 46, "dx": -14}
}
]
},
{
"spacing": 64,
"resolve": {"scale": {"color": "independent", "strokeDash": "independent"}, "legend": {"color": "independent", "strokeDash": "independent"}},
"hconcat": [
{
"width": 437, "height": 177,
"data": {"name": "c"},
"transform": [{"fold": ["P1","P2","P3","P4"], "as": ["series","value"]}],
"mark": {"type": "line", "strokeWidth": 1.8},
"encoding": {
"x": {"field": "t", "type": "quantitative", "scale": {"domain": [0,300], "nice": false}, "axis": {"values": [0,50,100,150,200,250,300], "title": "Time (sampling period)", "labelFontSize": 16, "labelFontStyle": "italic", "labelPadding": 12, "titleFontSize": 16.5, "titleFontWeight": "normal", "titlePadding": 18}},
"y": {"field": "value", "type": "quantitative", "scale": {"domain": [0,1], "nice": false}, "axis": {"values": [0,0.2,0.4,0.6,0.8,1], "format": "~g", "title": "CPU utilization", "labelFontSize": 16, "labelPadding": 8, "titleFont": "Liberation Mono", "titleColor": "#7a7a7a", "titleFontSize": 16, "titleFontWeight": "normal", "titlePadding": 16}},
"color": {"field": "series", "type": "nominal", "scale": {"domain": ["P1","P2","P3","P4"], "range": ["#000080","#FF00FF","#0000FF","#008000"]}, "legend": {"title": null, "legendX": -40, "legendY": 267, "symbolSize": 3481, "symbolStrokeWidth": 2, "labelFontSize": 15, "labelOffset": 4, "columnPadding": 37, "padding": 8.5}},
"strokeDash": {"field": "series", "type": "nominal", "scale": {"domain": ["P1","P2","P3","P4"], "range": [[1,0],[8,5],[3,4],[9,4,3,4]]}, "legend": {"title": null, "legendX": -40, "legendY": 267, "symbolSize": 3481, "symbolStrokeWidth": 2, "labelFontSize": 15, "labelOffset": 4, "columnPadding": 37, "padding": 8.5}}
},
"title": {"text": "(c) Global fluctuation (OPEN)", "offset": 29, "dx": -38}
},
{
"width": 443, "height": 181,
"data": {"name": "d"},
"transform": [{"fold": ["P1","P2","P3","P4"], "as": ["series","value"]}],
"mark": {"type": "line", "strokeWidth": 1.8},
"encoding": {
"x": {"field": "t", "type": "quantitative", "scale": {"domain": [0,300], "nice": false}, "axis": {"values": [0,50,100,150,200,250,300], "title": "Time (sampling period)`", "labelFontSize": 16.5, "labelPadding": 12, "titleFontSize": 16.5, "titleFontWeight": "normal", "titlePadding": 16}},
"y": {"field": "value", "type": "quantitative", "scale": {"domain": [0,1], "nice": false}, "axis": {"values": [0,0.2,0.4,0.6,0.8,1], "format": "~g", "title": "CPU utilization", "labelFontSize": 16.5, "labelPadding": 7, "titleFont": "Liberation Mono", "titleColor": "#7a7a7a", "titleFontSize": 16, "titleFontWeight": "normal", "titlePadding": 13}},
"color": {"field": "series", "type": "nominal", "scale": {"domain": ["P1","P2","P3","P4"], "range": ["#000080","#FF00FF","#0000FF","#008000"]}, "legend": {"title": null, "legendX": -32, "legendY": 273, "symbolSize": 3364, "symbolStrokeWidth": 2, "labelFontSize": 16, "labelOffset": 5, "columnPadding": 37, "padding": 6}},
"strokeDash": {"field": "series", "type": "nominal", "scale": {"domain": ["P1","P2","P3","P4"], "range": [[1,0],[8,5],[3,4],[9,4,3,4]]}, "legend": {"title": null, "legendX": -32, "legendY": 273, "symbolSize": 3364, "symbolStrokeWidth": 2, "labelFontSize": 16, "labelOffset": 5, "columnPadding": 37, "padding": 6}}
},
"title": {"text": "(d) Local fluctuation on P₁ (OPEN)", "offset": 28, "dx": -27}
}
]
}
]
}
